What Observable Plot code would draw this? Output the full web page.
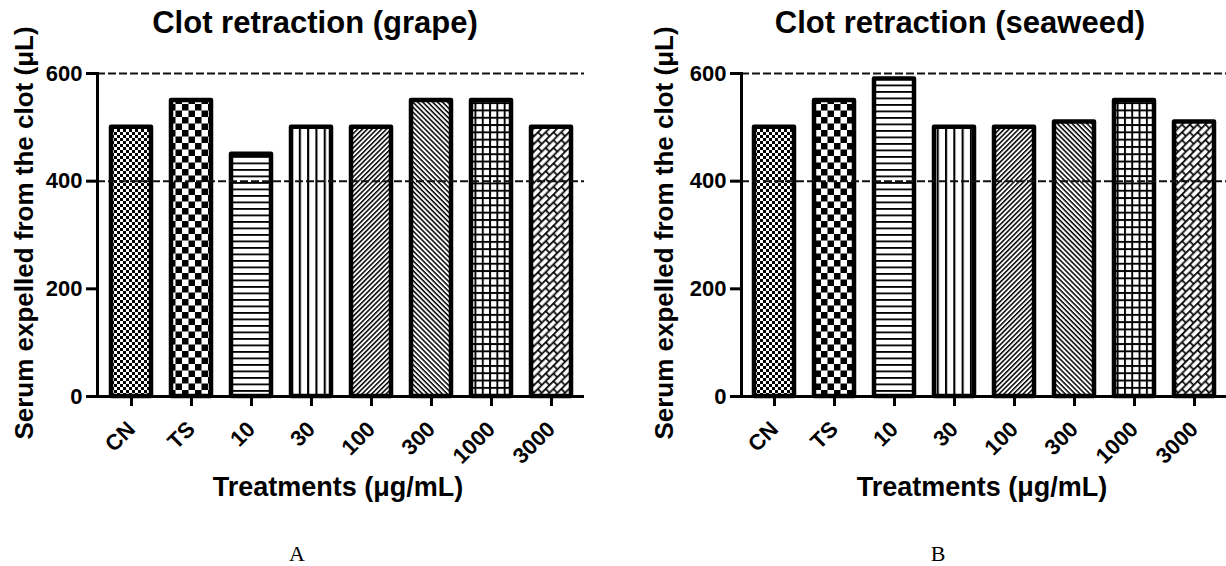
<!DOCTYPE html>
<html><head><meta charset="utf-8">
<script src="https://cdn.jsdelivr.net/npm/d3@7"></script>
<script src="https://cdn.jsdelivr.net/npm/@observablehq/plot@0.6"></script>
<style>
html,body{margin:0;padding:0;background:#fff;}
#wrap{position:relative;width:1226px;height:566px;overflow:hidden;background:#fff;}
#wrap > svg{position:absolute;top:0;}
</style></head><body>
<svg width="0" height="0" style="position:absolute">
<defs>
  <pattern id="pat0" patternUnits="userSpaceOnUse" width="6" height="6">
    <rect width="6" height="6" fill="#fff"/><rect x="0" y="0" width="3" height="3" fill="#000"/><rect x="3" y="3" width="3" height="3" fill="#000"/>
  </pattern>
  <pattern id="pat1" patternUnits="userSpaceOnUse" width="13" height="13">
    <rect width="13" height="13" fill="#fff"/><rect x="0" y="0" width="6.5" height="6.5" fill="#000"/><rect x="6.5" y="6.5" width="6.5" height="6.5" fill="#000"/>
  </pattern>
  <pattern id="pat2" patternUnits="userSpaceOnUse" width="10" height="6.5">
    <rect width="10" height="6.5" fill="#fff"/><rect x="0" y="0" width="10" height="1.8" fill="#000"/>
  </pattern>
  <pattern id="pat3" patternUnits="userSpaceOnUse" width="8.3" height="10">
    <rect width="8.3" height="10" fill="#fff"/><rect x="0" y="0" width="2.1" height="10" fill="#000"/>
  </pattern>
  <pattern id="pat4" patternUnits="userSpaceOnUse" width="10" height="3.4" patternTransform="rotate(-45)">
    <rect width="10" height="3.4" fill="#fff"/><rect x="0" y="0" width="10" height="1.5" fill="#000"/>
  </pattern>
  <pattern id="pat5" patternUnits="userSpaceOnUse" width="10" height="3.5" patternTransform="rotate(45)">
    <rect width="10" height="3.5" fill="#fff"/><rect x="0" y="0" width="10" height="1.5" fill="#000"/>
  </pattern>
  <pattern id="pat6" patternUnits="userSpaceOnUse" width="7.3" height="7.3">
    <rect width="7.3" height="7.3" fill="#fff"/><rect x="0" y="0" width="7.3" height="1.9" fill="#000"/><rect x="0" y="0" width="1.9" height="7.3" fill="#000"/>
  </pattern>
  <pattern id="pat7" patternUnits="userSpaceOnUse" width="11" height="11" patternTransform="rotate(-45)">
    <rect width="11" height="11" fill="#fff"/>
    <path d="M0,0.8H11M0,6.3H11M0.8,0V6.3M6.3,6.3V11" stroke="#000" stroke-width="1.7" fill="none"/>
  </pattern>
</defs>
</svg>
<div id="wrap"></div>
<script>
// ---- data ----
const categories = ["CN", "TS", "10", "30", "100", "300", "1000", "3000"];
const grapeValues = [500, 550, 450, 500, 500, 550, 550, 500];
const seaweedValues = [500, 550, 590, 500, 500, 510, 550, 510];
const patternIds = ["pat0", "pat1", "pat2", "pat3", "pat4", "pat5", "pat6", "pat7"];
const yTicks = [0, 200, 400, 600];
const refLines = [400, 600];
const titles = ["Clot retraction (grape)", "Clot retraction (seaweed)"];
const captions = ["A", "B"];
const yLabel = "Serum expelled from the clot (\u03bcL)";
const xLabel = "Treatments (\u03bcg/mL)";

const SANS = "'Liberation Sans', Arial, Helvetica, sans-serif";
const SERIF = "'Liberation Serif', 'Times New Roman', serif";

function panel(values, opt) {
  const data = categories.map((c, i) => ({cat: c, value: values[i]}));
  const bars = categories.map((c, i) =>
    Plot.barY(data.filter(d => d.cat === c), {
      x: "cat", y: "value",
      fill: `url(#${patternIds[i]})`,
      stroke: "#000", strokeWidth: 4.5, strokeLinejoin: "round"
    })
  );
  const svg = Plot.plot({
    width: 613, height: 566,
    marginTop: 73, marginBottom: 170,
    marginLeft: opt.marginLeft, marginRight: opt.marginRight,
    x: {domain: categories, paddingInner: 0.34, paddingOuter: 0.17, axis: null},
    y: {domain: [0, 600], axis: null},
    style: {fontFamily: SANS, color: "#000", background: "transparent", overflow: "visible"},
    marks: [
      ...bars,
      Plot.ruleY(refLines, {stroke: "#111", strokeWidth: 2, strokeDasharray: "8,3"}),
      Plot.frame({anchor: "left", stroke: "#000", strokeWidth: 3}),
      Plot.ruleY([0], {stroke: "#000", strokeWidth: 3}),
      Plot.axisY({ticks: yTicks, tickSize: 11, tickPadding: 4, strokeWidth: 3, fontSize: 22, fontWeight: "bold", label: null, fill: "#000"}),
      Plot.axisX({tickRotate: -45, tickSize: 10, tickPadding: 19, strokeWidth: 3, fontSize: 22, fontWeight: "bold", label: null, fill: "#000"}),
      Plot.text([opt.title], {text: d => d, frameAnchor: "top", textAnchor: "middle", dx: opt.titleDx, dy: -50, lineAnchor: "middle", fontSize: 31, fontWeight: "bold", fill: "#000"}),
      Plot.text([yLabel], {text: d => d, frameAnchor: "left", textAnchor: "middle", rotate: -90, dx: opt.ylabelDx, dy: -2, lineAnchor: "middle", fontSize: 26, fontWeight: "bold", fill: "#000"}),
      Plot.text([xLabel], {text: d => d, frameAnchor: "bottom", textAnchor: "middle", dx: opt.xlabelDx, dy: 91, lineAnchor: "middle", fontSize: 27, fontWeight: "bold", fill: "#000"}),
      Plot.text([opt.caption], {text: d => d, frameAnchor: "bottom", textAnchor: "middle", dx: opt.captionDx, dy: 157, lineAnchor: "middle", fontSize: 22, fontFamily: SERIF, fill: "#000"})
    ]
  });
  svg.style.left = opt.left + "px";
  return svg;
}

const wrap = document.getElementById("wrap");
wrap.appendChild(panel(grapeValues, {left: 0, marginLeft: 97, marginRight: 29, title: titles[0], caption: captions[0], titleDx: -26, ylabelDx: -73, xlabelDx: -3, captionDx: -44}));
wrap.appendChild(panel(seaweedValues, {left: 613, marginLeft: 128, marginRight: 0, title: titles[1], caption: captions[1], titleDx: -24, ylabelDx: -77, xlabelDx: -2, captionDx: -46}));
</script>
</body></html>
